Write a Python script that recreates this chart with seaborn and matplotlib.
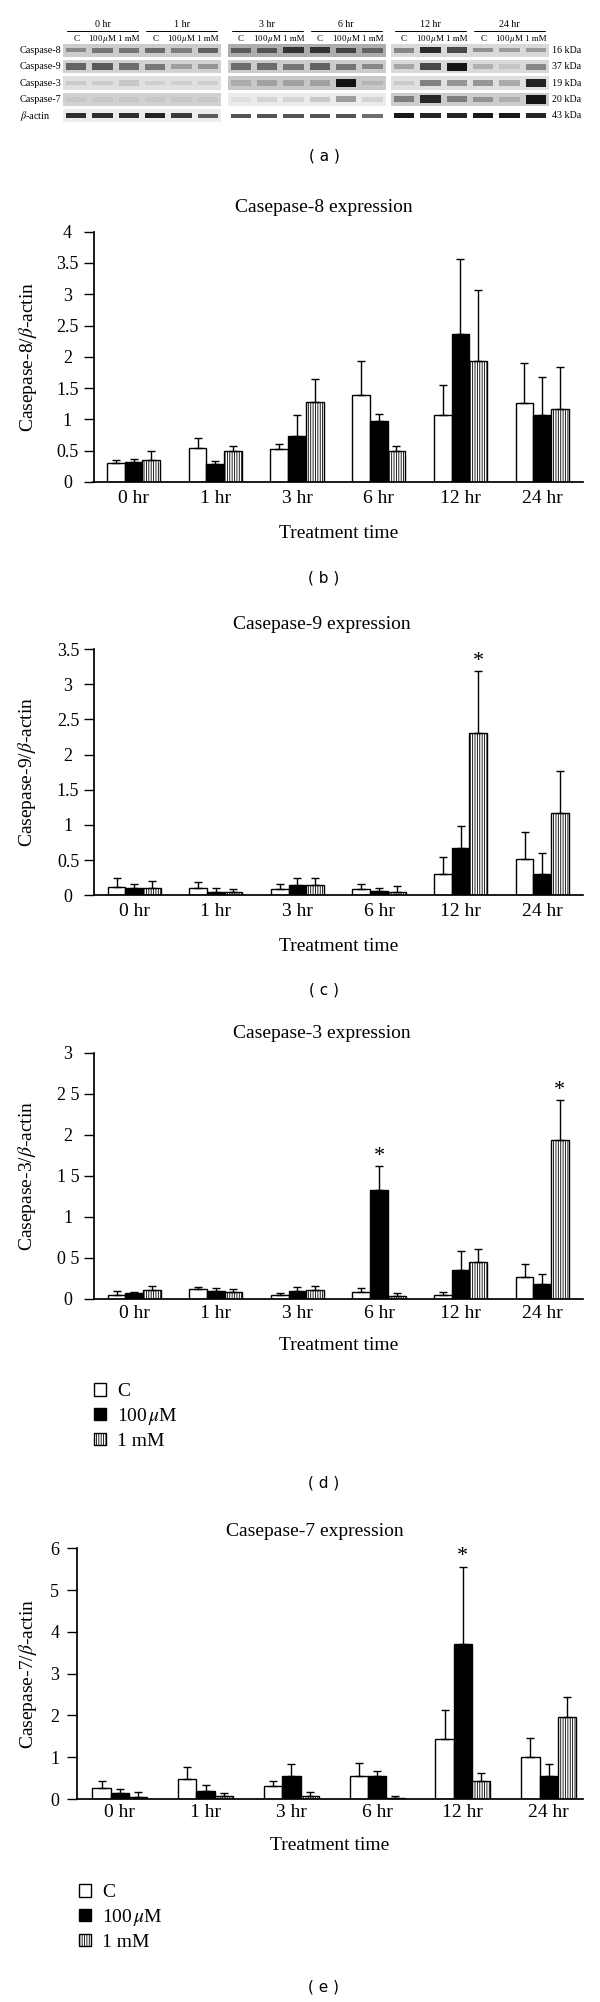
import numpy as np
import pandas as pd
import matplotlib
matplotlib.use("Agg")
import matplotlib.pyplot as plt
import seaborn as sns
from matplotlib.patches import Patch

# ==============================
# DATOS
# ==============================
times = ["0 hr", "1 hr", "3 hr", "6 hr", "12 hr", "24 hr"]
treatments = ["C", "100 µM", "1 mM"]
legend_labels = ["C", "100$\\,\\mu$M", "1 mM"]

# caspase-8 / beta-actin (media y desviacion superior)
casp8_mean = {"C": [0.30, 0.55, 0.53, 1.39, 1.07, 1.27],
              "100 µM": [0.32, 0.29, 0.74, 0.97, 2.37, 1.07],
              "1 mM": [0.35, 0.49, 1.28, 0.49, 1.93, 1.17]}
casp8_err = {"C": [0.05, 0.15, 0.07, 0.54, 0.48, 0.63],
             "100 µM": [0.05, 0.05, 0.33, 0.11, 1.19, 0.61],
             "1 mM": [0.15, 0.09, 0.37, 0.08, 1.14, 0.67]}

casp9_mean = {"C": [0.12, 0.10, 0.09, 0.09, 0.30, 0.52],
              "100 µM": [0.11, 0.05, 0.14, 0.06, 0.67, 0.30],
              "1 mM": [0.10, 0.05, 0.14, 0.04, 2.31, 1.17]}
casp9_err = {"C": [0.12, 0.09, 0.07, 0.07, 0.25, 0.38],
             "100 µM": [0.05, 0.05, 0.10, 0.05, 0.31, 0.30],
             "1 mM": [0.10, 0.04, 0.10, 0.09, 0.88, 0.60]}

casp3_mean = {"C": [0.05, 0.12, 0.04, 0.085, 0.05, 0.27],
              "100 µM": [0.065, 0.09, 0.10, 1.33, 0.35, 0.18],
              "1 mM": [0.105, 0.085, 0.105, 0.03, 0.445, 1.94]}
casp3_err = {"C": [0.05, 0.02, 0.035, 0.04, 0.03, 0.15],
             "100 µM": [0.02, 0.035, 0.045, 0.29, 0.23, 0.12],
             "1 mM": [0.045, 0.035, 0.055, 0.045, 0.165, 0.48]}

casp7_mean = {"C": [0.27, 0.49, 0.30, 0.54, 1.43, 1.00],
              "100 µM": [0.14, 0.20, 0.54, 0.54, 3.71, 0.56],
              "1 mM": [0.04, 0.07, 0.06, 0.03, 0.42, 1.96]}
casp7_err = {"C": [0.16, 0.28, 0.12, 0.33, 0.69, 0.45],
             "100 µM": [0.10, 0.14, 0.29, 0.14, 1.85, 0.27],
             "1 mM": [0.13, 0.07, 0.11, 0.05, 0.20, 0.47]}

# asteriscos de significancia (tiempo, tratamiento)
casp9_stars = [("12 hr", "1 mM")]
casp3_stars = [("6 hr", "100 µM"), ("24 hr", "1 mM")]
casp7_stars = [("12 hr", "100 µM")]

# western blot: intensidad de banda por carril (18 carriles)
blot_rows = ["Caspase-8", "Caspase-9", "Caspase-3", "Caspase-7", "$\\beta$-actin"]
blot_kda = ["16 kDa", "37 kDa", "19 kDa", "20 kDa", "43 kDa"]
casp8_band = [0.35, 0.45, 0.45, 0.5, 0.4, 0.55, 0.5, 0.55, 0.75, 0.75, 0.65, 0.45, 0.4, 0.85, 0.7, 0.35, 0.3, 0.3]
casp9_band = [0.55, 0.6, 0.5, 0.45, 0.25, 0.3, 0.5, 0.5, 0.45, 0.55, 0.45, 0.35, 0.25, 0.7, 0.95, 0.2, 0.1, 0.4]
casp3_band = [0.1, 0.1, 0.12, 0.08, 0.08, 0.08, 0.15, 0.2, 0.2, 0.2, 0.95, 0.1, 0.1, 0.45, 0.35, 0.35, 0.25, 0.9]
casp7_band = [0.05, 0.05, 0.05, 0.05, 0.05, 0.05, 0.05, 0.1, 0.1, 0.15, 0.35, 0.1, 0.4, 0.85, 0.4, 0.3, 0.15, 0.95]
actin_band = [0.85, 0.85, 0.85, 0.9, 0.8, 0.65, 0.7, 0.7, 0.7, 0.7, 0.7, 0.6, 0.95, 0.9, 0.9, 0.95, 0.95, 0.9]
# fondo de cada tira (claridad) por pieza de membrana
strip_light = [[0.80, 0.68, 0.85],
               [0.82, 0.80, 0.85],
               [0.88, 0.78, 0.88],
               [0.82, 0.92, 0.80],
               [0.93, 1.00, 1.00]]

# ==============================
# CONFIGURACION VISUAL
# ==============================
sns.set_theme(style="ticks", rc={"axes.edgecolor": "black", "xtick.color": "black",
                                 "ytick.color": "black", "text.color": "black",
                                 "axes.labelcolor": "black"})
plt.rcParams["font.family"] = ["Liberation Serif", "DejaVu Serif"]
plt.rcParams["mathtext.fontset"] = "stix"
plt.rcParams["hatch.linewidth"] = 0.6

W, H = 600, 2002
fig = plt.figure(figsize=(W / 100, H / 100), dpi=100)


def px_rect(l, t, r, b):
    return [l / W, 1 - b / H, (r - l) / W, (b - t) / H]


# ==============================
# (a) WESTERN BLOT
# ==============================
ax = fig.add_axes(px_rect(63, 42, 549, 124))
bands = [casp8_band, casp9_band, casp3_band, casp7_band, actin_band]
band_h = [0.3, 0.38, 0.4, 0.4, 0.24]
piece_off = [0, 6.25, 12.45]
lane_x = np.array([piece_off[p] + l for p in range(3) for l in range(6)])
for r, row in enumerate(bands):
    for p in range(3):
        ax.barh(r, 6, left=piece_off[p] - 0.5, height=0.8,
                color=str(strip_light[r][p]), linewidth=0)
    for i, val in enumerate(row):
        bg = strip_light[r][i // 6]
        ax.barh(r, 0.78, left=lane_x[i] - 0.39, height=band_h[r] * (0.7 + 0.6 * val),
                color=str(round(bg * (1 - 0.95 * val), 3)), linewidth=0)
ax.set_xlim(-0.5, 17.95)
ax.set_ylim(4.5, -0.5)
ax.axis("off")
lane_names = ["C", "100$\\,\\mu$M", "1 mM"]
for i, x in enumerate(lane_x):
    ax.text(x, -0.7, lane_names[i % 3], ha="center", va="center", fontsize=6.5, clip_on=False)
for g, t in enumerate(times):
    x0, x2 = lane_x[g * 3], lane_x[g * 3 + 2]
    ax.text((x0 + x2) / 2, -1.58, t, ha="center", va="center", fontsize=7.2, clip_on=False)
    ax.plot([x0 - 0.35, x2 + 0.35], [-1.2, -1.2], color="black", lw=0.7, clip_on=False)
for r, (name, kda) in enumerate(zip(blot_rows, blot_kda)):
    ax.text(-2.13, r, name, ha="left", va="center", fontsize=7.3, clip_on=False)
    ax.text(18.07, r, kda, ha="left", va="center", fontsize=7.2, clip_on=False)


# ==============================
# (b)-(e) GRAFICOS DE BARRAS
# ==============================
def bar_panel(rect, title, title_xy, ylabel, means, errs, ymax, yticks, yticklabels,
              xlim, width, ylab_x, xlab_y, tick_pad, x_pad, stars):
    ax = fig.add_axes(rect)
    df = pd.DataFrame({
        "time": times * 3,
        "treatment": np.repeat(treatments, len(times)),
        "value": means["C"] + means["100 µM"] + means["1 mM"],
    })
    sns.barplot(data=df, x="time", y="value", hue="treatment", order=times,
                hue_order=treatments, palette=["white", "black", "white"],
                saturation=1, edgecolor="black", linewidth=1.0, width=width,
                errorbar=None, legend=False, ax=ax)
    tops = {}
    for cont, tr in zip(ax.containers, treatments):
        for bar, e, t in zip(cont, errs[tr], times):
            if tr == "1 mM":
                bar.set_hatch("|||||||")
            xc = bar.get_x() + bar.get_width() / 2
            h = bar.get_height()
            ax.errorbar(xc, h, yerr=[[0], [e]], color="black", lw=1.0,
                        capsize=3, capthick=1.0)
            tops[(t, tr)] = (xc, h + e)
    for key in stars:
        xc, yt = tops[key]
        ax.annotate("*", xy=(xc, yt), xytext=(0, 7), textcoords="offset points",
                    ha="center", va="center", fontsize=16)
    sns.despine(ax=ax)
    ax.set_xlim(*xlim)
    ax.set_ylim(0, ymax)
    ax.set_yticks(yticks)
    ax.set_yticklabels(yticklabels)
    ax.tick_params(axis="y", direction="out", length=7.5, width=1.0,
                   pad=tick_pad, labelsize=13)
    for lbl in ax.get_yticklabels():
        lbl.set_horizontalalignment("center")
    ax.tick_params(axis="x", length=0, pad=x_pad, labelsize=14)
    ax.set_ylabel(ylabel, fontsize=14)
    ax.yaxis.set_label_coords(ylab_x, 0.5)
    ax.set_xlabel("Treatment time", fontsize=14)
    ax.xaxis.set_label_coords(0.5, xlab_y)
    fig.text(title_xy[0] / W, 1 - title_xy[1] / H, title, ha="center", va="center",
             fontsize=14)
    return ax


bar_panel(px_rect(93.5, 231.7, 583, 482), "Casepase-8 expression", (324, 207),
          "Casepase-8/$\\beta$-actin", casp8_mean, casp8_err, 4,
          [0, 0.5, 1, 1.5, 2, 2.5, 3, 3.5, 4],
          ["0", "0.5", "1", "1.5", "2", "2.5", "3", "3.5", "4"],
          (-0.49, 5.5), 0.65, -0.112, -0.172, 11.3, 5.8, [])

bar_panel(px_rect(94.2, 649, 583, 895.3), "Casepase-9 expression", (322, 625),
          "Casepase-9/$\\beta$-actin", casp9_mean, casp9_err, 3.5,
          [0, 0.5, 1, 1.5, 2, 2.5, 3, 3.5],
          ["0", "0.5", "1", "1.5", "2", "2.5", "3", "3.5"],
          (-0.49, 5.5), 0.65, -0.114, -0.174, 11.3, 5.5, casp9_stars)

bar_panel(px_rect(94.2, 1052.7, 583, 1298.7), "Casepase-3 expression", (322, 1034),
          "Casepase-3/$\\beta$-actin", casp3_mean, casp3_err, 3,
          [0, 0.5, 1, 1.5, 2, 2.5, 3],
          ["0", "0 5", "1", "1 5", "2", "2 5", "3"],
          (-0.49, 5.5), 0.65, -0.114, -0.154, 11.3, 4.3, casp3_stars)

bar_panel(px_rect(77, 1548.3, 583, 1799), "Casepase-7 expression", (315, 1531),
          "Casepase-7/$\\beta$-actin", casp7_mean, casp7_err, 6,
          [0, 1, 2, 3, 4, 5, 6],
          ["0", "1", "2", "3", "4", "5", "6"],
          (-0.5, 5.4), 0.64, -0.076, -0.150, 8.6, 3.6, casp7_stars)

# ==============================
# LEYENDAS Y ETIQUETAS DE PANEL
# ==============================
handles = [Patch(facecolor="white", edgecolor="black", linewidth=1.0),
           Patch(facecolor="black", edgecolor="black", linewidth=1.0),
           Patch(facecolor="white", edgecolor="black", linewidth=1.0, hatch="|||||||")]
for lx, ly in [(93.5, 1383), (79, 1884)]:
    fig.legend(handles, legend_labels, loc="upper left",
               bbox_to_anchor=(lx / W, 1 - ly / H), frameon=False, borderpad=0,
               borderaxespad=0, handlelength=0.62, handleheight=0.62,
               handletextpad=0.58, labelspacing=0.3, fontsize=14)

for lab, y in zip(["a", "b", "c", "d", "e"], [156, 578, 990, 1483, 1987]):
    fig.text(324 / W, 1 - y / H, f"( {lab} )", ha="center", va="center",
             fontsize=11, family="DejaVu Sans")

plt.savefig("out.png", dpi=100)
